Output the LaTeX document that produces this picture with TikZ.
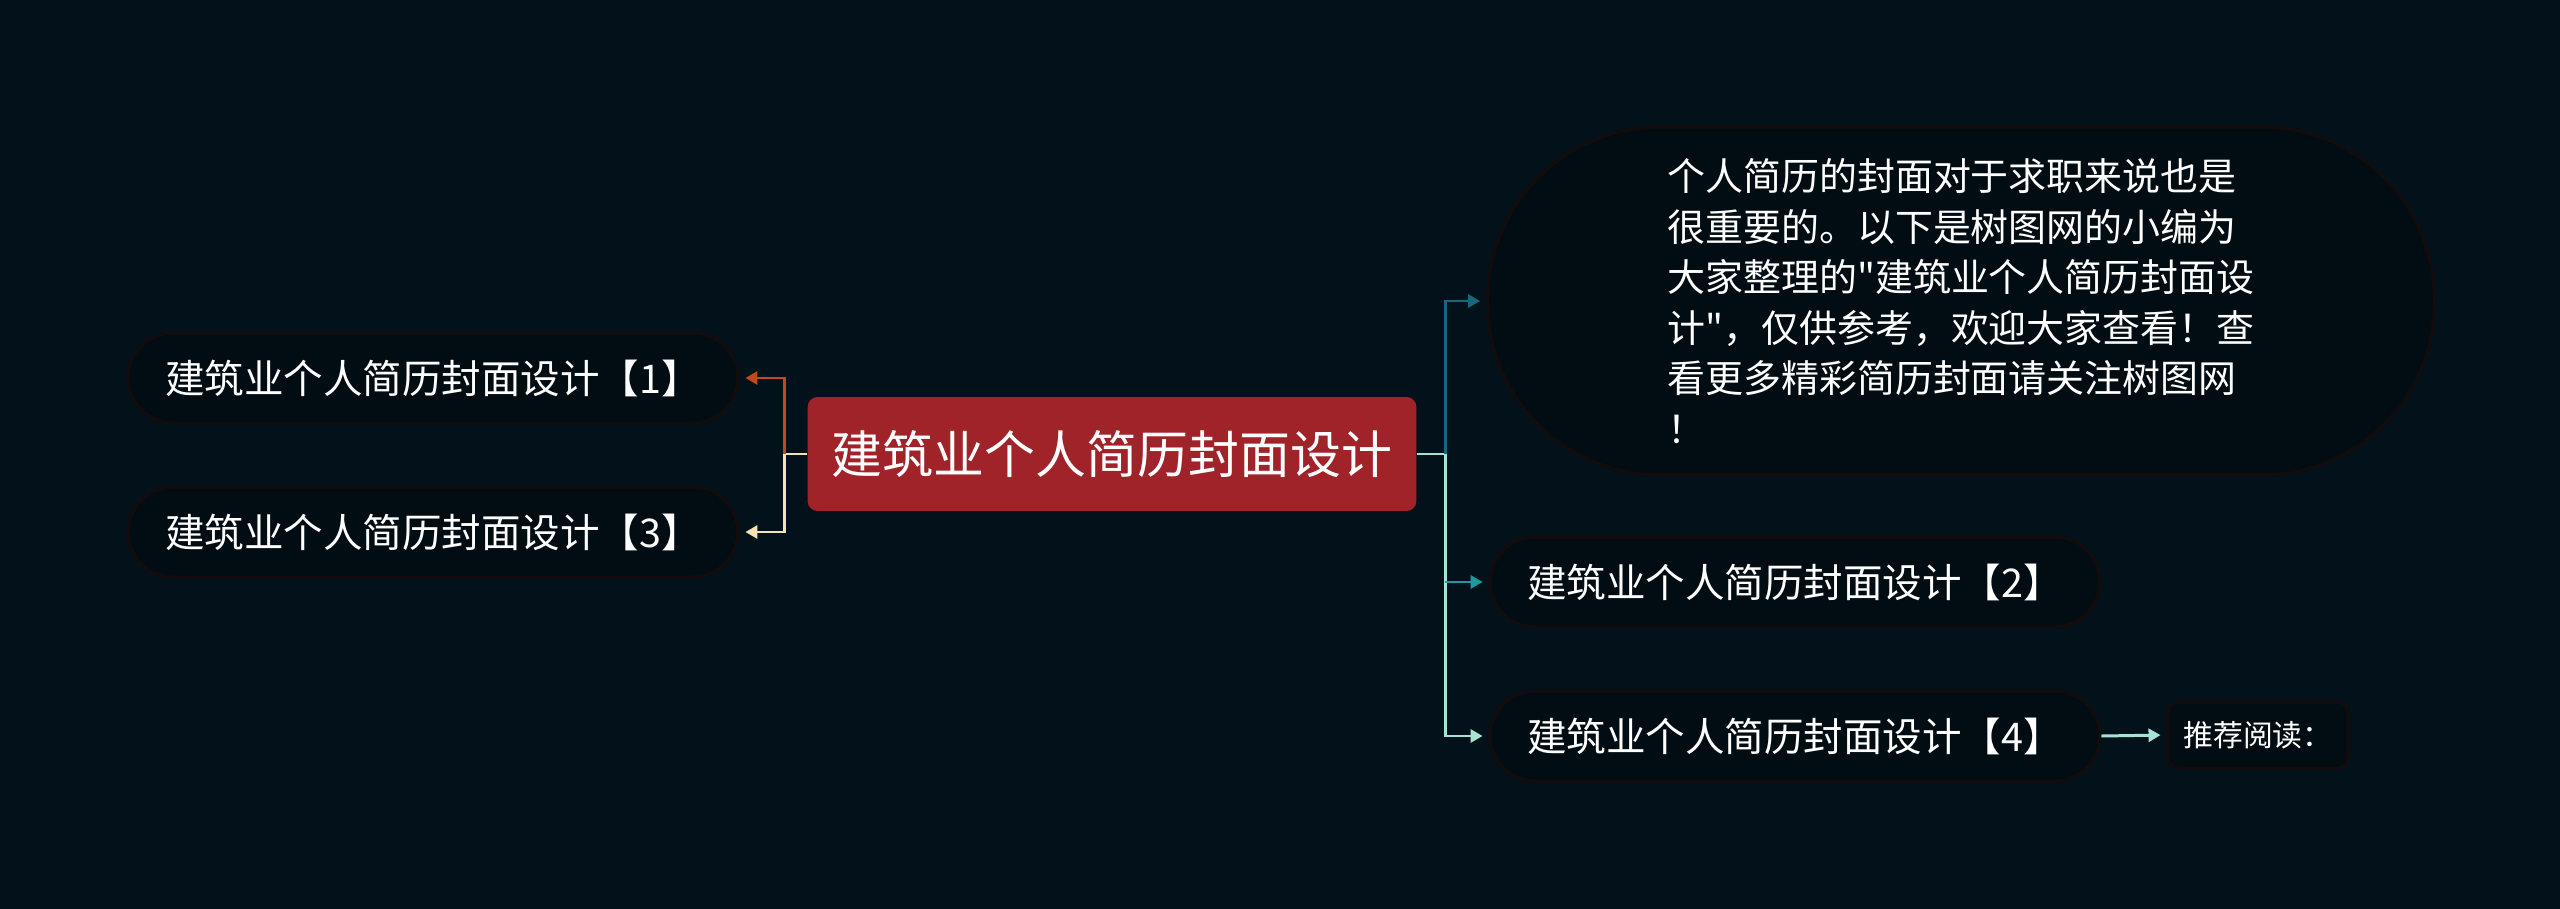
\documentclass[tikz,border=0pt]{standalone}
\usepackage{fontspec}
\setmainfont{Noto Sans CJK SC}
\usetikzlibrary{arrows.meta}
\definecolor{bgdark}{RGB}{3,17,26}
\definecolor{pillfill}{RGB}{2,13,19}
\definecolor{pilledge}{RGB}{20,12,12}
\definecolor{mainred}{RGB}{160,35,42}
\definecolor{rust}{RGB}{194,74,22}
\definecolor{cream}{RGB}{242,226,180}
\definecolor{darkteal}{RGB}{23,104,126}
\definecolor{tealmid}{RGB}{28,154,160}
\definecolor{mint}{RGB}{166,227,210}

\begin{document}
\begin{tikzpicture}[x=0.02cm,y=-0.02cm,
  topic/.style={fill=mainred,text=white,rounded corners=0.2cm,minimum width=12.18cm,minimum height=2.28cm,inner sep=0pt,font=\fontsize{29pt}{35pt}\selectfont},
  pill/.style={fill=pillfill,draw=pilledge,line width=1.7pt,text=white,rounded corners=0.9cm,minimum width=12.2cm,minimum height=1.8cm,inner sep=0pt,font=\fontsize{22.5pt}{27pt}\selectfont},
  bubble/.style={fill=pillfill,draw=pilledge,line width=1.7pt,text=white,rounded corners=3.45cm,minimum width=18.94cm,minimum height=6.96cm,inner sep=0pt,align=left,font=\fontsize{21.6pt}{28.8pt}\selectfont},
  smallbox/.style={fill=pillfill,draw=pilledge,line width=1.7pt,text=white,rounded corners=0.2cm,minimum width=3.6cm,minimum height=1.32cm,inner sep=0pt,font=\fontsize{17pt}{20pt}\selectfont},
  link/.style={line width=1.7pt,-{Triangle[length=0.24cm,width=0.26cm]},shorten >=0.12cm}]
  \fill[bgdark] (0,0) rectangle (2560,909);

  \node[topic] (main) at (1112,454) {建筑业个人简历封面设计};
  \node[pill] (n1) at (433,378) {建筑业个人简历封面设计【1】};
  \node[pill] (n3) at (433,532) {建筑业个人简历封面设计【3】};
  \node[bubble] (desc) at (1961,301) {个人简历的封面对于求职来说也是\\很重要的。以下是树图网的小编为\\大家整理的\textquotedbl 建筑业个人简历封面设\\计\textquotedbl ，仅供参考，欢迎大家查看！查\\看更多精彩简历封面请关注树图网\\！};
  \node[pill] (n2) at (1795,582) {建筑业个人简历封面设计【2】};
  \node[pill] (n4) at (1795,736) {建筑业个人简历封面设计【4】};
  \node[smallbox] (more) at (2258,735) {推荐阅读：};

  \coordinate (lj) at (784,454);
  \coordinate (rj) at (1445,454);

  \draw[link,cream] (main.west) -- (lj) |- (n3.east);
  \draw[link,rust] (lj) |- (n1.east);
  \draw[link,mint] (main.east) -- (rj) |- (n4.west);
  \draw[link,darkteal] (rj) |- (desc.west);
  \draw[link,tealmid] (rj |- n2.west) -- (n2.west);
  \draw[link,mint] (n4.east) -- (more.west);
\end{tikzpicture}
\end{document}
